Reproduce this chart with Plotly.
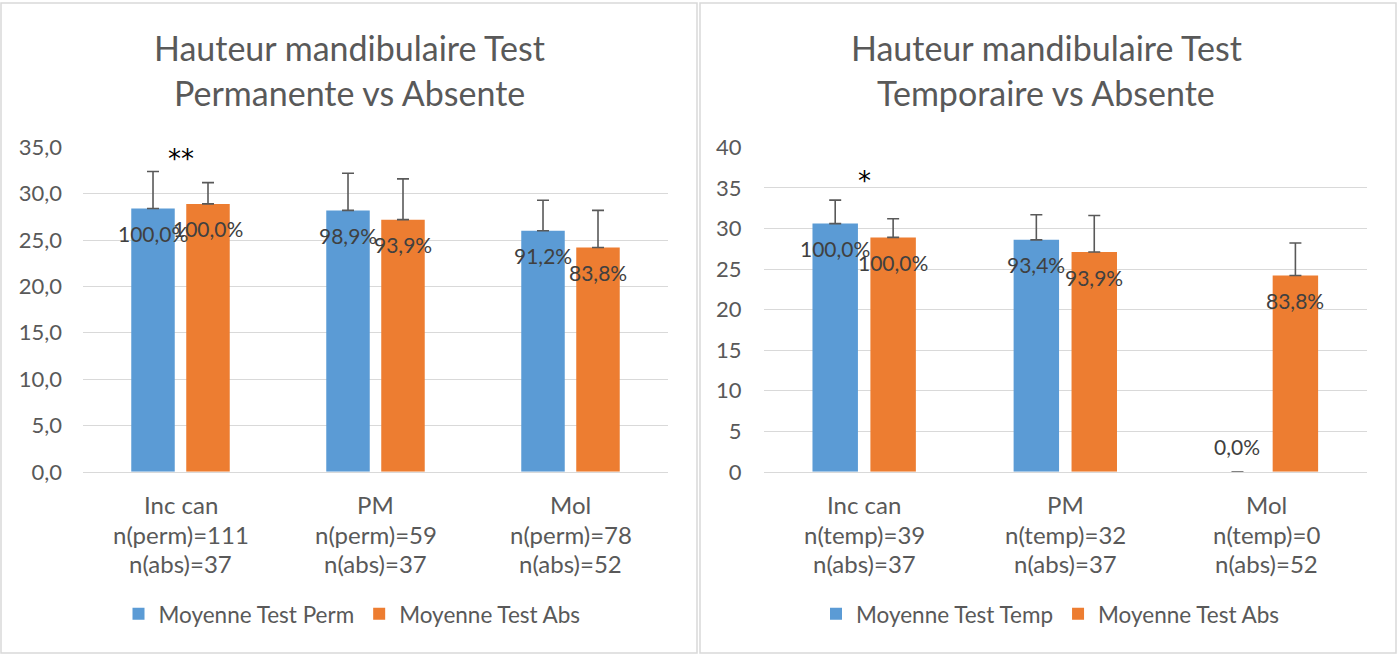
import plotly.graph_objects as go

# ---------------- data ----------------
categories = ["Inc can", "PM", "Mol"]
n_left_perm = ["n(perm)=111", "n(perm)=59", "n(perm)=78"]
n_left_abs = ["n(abs)=37", "n(abs)=37", "n(abs)=52"]
n_right_temp = ["n(temp)=39", "n(temp)=32", "n(temp)=0"]
n_right_abs = ["n(abs)=37", "n(abs)=37", "n(abs)=52"]

perm_mean = [28.4, 28.2, 26.0]
perm_sd = [4.0, 4.0, 3.3]
perm_pct = ["100,0%", "98,9%", "91,2%"]
abs_mean_left = [28.9, 27.2, 24.2]
abs_sd_left = [2.3, 4.4, 4.0]
abs_pct_left = ["100,0%", "93,9%", "83,8%"]
signif_left = ["**", "", ""]

temp_mean = [30.6, 28.6, 0.0]
temp_sd = [2.9, 3.1, 0.0]
temp_pct = ["100,0%", "93,4%", "0,0%"]
abs_mean_right = [28.9, 27.1, 24.2]
abs_sd_right = [2.3, 4.5, 4.0]
abs_pct_right = ["100,0%", "93,9%", "83,8%"]
signif_right = ["*", "", ""]

titles = [["Hauteur mandibulaire Test", "Permanente vs Absente"],
          ["Hauteur mandibulaire Test", "Temporaire vs Absente"]]

# ---------------- style ----------------
BLUE = "#5B9BD5"
ORANGE = "#ED7D31"
GRID = "#D9D9D9"
TXT = "#595959"
LBL = "#404040"
FONT = "Lato"
W, H = 1397, 655
# the page is drawn slightly shorter than the window; map target pixel rows accordingly
OFF, HR = 12.0, 631.0

def px_x(p):
    return p / W

def px_y(p):
    return 1 - (p - OFF) / HR

x = [0, 1, 2]
fig = go.Figure()

panels = [
    dict(xa="x", ya="y", bw=0.223, co=0.141,
         s1=("Moyenne Test Perm", perm_mean, perm_sd, perm_pct),
         s2=("Moyenne Test Abs", abs_mean_left, abs_sd_left, abs_pct_left),
         rows=[categories, n_left_perm, n_left_abs], sig=signif_left, sigy=33.7,
         legend="legend", cx=349),
    dict(xa="x2", ya="y2", bw=0.226, co=0.144,
         s1=("Moyenne Test Temp", temp_mean, temp_sd, temp_pct),
         s2=("Moyenne Test Abs", abs_mean_right, abs_sd_right, abs_pct_right),
         rows=[categories, n_right_temp, n_right_abs], sig=signif_right, sigy=35.9,
         legend="legend2", cx=1046),
]

annotations = []
for j, p in enumerate(panels):
    for (name, vals, sd, pct), color, sign in [(p["s1"], BLUE, -1), (p["s2"], ORANGE, 1)]:
        fig.add_trace(go.Bar(
            x=x, y=vals, name=name, marker=dict(color=color, line=dict(width=0)),
            width=p["bw"], offset=sign * p["co"] - p["bw"] / 2,
            error_y=dict(type="data", array=sd, arrayminus=[0] * len(sd), symmetric=False,
                         color="#595959", thickness=1.6, width=6, visible=True),
            xaxis=p["xa"], yaxis=p["ya"], legend=p["legend"], hoverinfo="skip",
        ))
        for i, (v, t) in enumerate(zip(vals, pct)):
            annotations.append(dict(
                x=i + sign * p["co"], y=v, xref=p["xa"], yref=p["ya"], text=t,
                showarrow=False, xanchor="center", yanchor="middle",
                yshift=(-25 if v > 0 else 25),
                font=dict(family=FONT, size=21, color=LBL)))
    for i, s in enumerate(p["sig"]):
        if s:
            annotations.append(dict(x=i, y=p["sigy"], xref=p["xa"], yref=p["ya"], text=s,
                                    showarrow=False, xanchor="center", yanchor="middle",
                                    font=dict(family="DejaVu Sans", size=26, color="#000000")))
    for r, row in enumerate(p["rows"]):
        for i, t in enumerate(row):
            annotations.append(dict(x=i, y=px_y(472), xref=p["xa"], yref="paper", text=t,
                                    showarrow=False, xanchor="center", yanchor="middle",
                                    yshift=-(33 + 29.5 * r),
                                    font=dict(family=FONT, size=24, color=TXT)))
    for k, line in enumerate(titles[j]):
        annotations.append(dict(x=px_x(p["cx"]), y=px_y(45.5 + 45.5 * k), xref="paper", yref="paper",
                                text=line, showarrow=False, xanchor="center", yanchor="middle",
                                font=dict(family=FONT, size=34, color=TXT)))

ydom = [px_y(472), px_y(146)]
axis_common_y = dict(showgrid=True, gridcolor=GRID, gridwidth=1, zeroline=False,
                     showline=False, ticks="", dtick=5,
                     tickfont=dict(family=FONT, size=22, color=TXT))
axis_common_x = dict(range=[-0.5, 2.5], showgrid=False, zeroline=False,
                     showline=True, linecolor=GRID, linewidth=1,
                     showticklabels=False, ticks="", fixedrange=True)

legend_font = dict(family=FONT, size=22.5, color=TXT)
fig.update_layout(
    width=W, height=H, autosize=False, margin=dict(l=0, r=0, t=0, b=0, pad=0),
    paper_bgcolor="white", plot_bgcolor="white",
    separators=",.", barmode="overlay", showlegend=True,
    xaxis=dict(domain=[px_x(83), px_x(668)], anchor="y", **axis_common_x),
    yaxis=dict(domain=ydom, anchor="x", range=[0, 35], tickformat=".1f",
               ticklabelstandoff=20, **axis_common_y),
    xaxis2=dict(domain=[px_x(763.6), px_x(1367)], anchor="y2", **axis_common_x),
    yaxis2=dict(domain=ydom, anchor="x2", range=[0, 40], tickformat="d",
                ticklabelstandoff=21, **axis_common_y),
    legend=dict(orientation="h", x=px_x(352), xanchor="center", y=px_y(615), yanchor="middle",
                font=legend_font, bgcolor="rgba(0,0,0,0)", itemwidth=30),
    legend2=dict(orientation="h", x=px_x(1050), xanchor="center", y=px_y(615), yanchor="middle",
                 font=legend_font, bgcolor="rgba(0,0,0,0)", itemwidth=30),
    annotations=annotations,
    shapes=[
        dict(type="rect", xref="paper", yref="paper", x0=px_x(1), x1=px_x(697),
             y0=px_y(654), y1=px_y(1), line=dict(color=GRID, width=1.5)),
        dict(type="rect", xref="paper", yref="paper", x0=px_x(700), x1=px_x(1396),
             y0=px_y(654), y1=px_y(1), line=dict(color=GRID, width=1.5)),
    ],
)

fig.write_html(
    "out.html",
    config={"responsive": False, "displayModeBar": False},
    post_script="document.body.style.margin='0';document.body.style.padding='0';"
                "document.documentElement.style.overflow='hidden';document.body.style.overflow='hidden';",
)
